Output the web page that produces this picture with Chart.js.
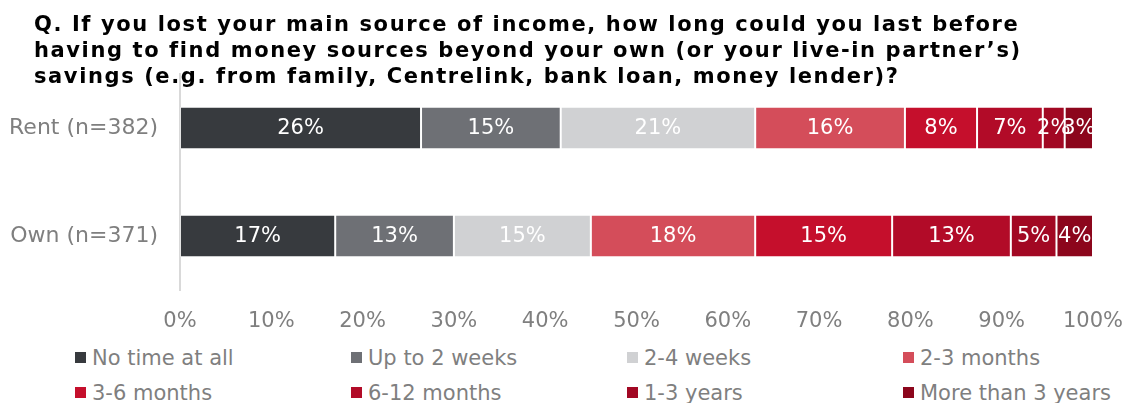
<!DOCTYPE html>
<html>
<head>
<meta charset="utf-8">
<script src="https://cdn.jsdelivr.net/npm/chart.js@4.4.1/dist/chart.umd.min.js"></script>
<style>
  body { margin: 0; background: #fff; font-family: 'DejaVu Sans', Verdana, sans-serif; }
  #wrap { position: relative; width: 1127px; height: 403px; overflow: hidden; }
  #title { position: absolute; left: 34px; top: 11px; z-index: 2; font-weight: bold; font-size: 21px; line-height: 26px; letter-spacing: 1.6px; color: #000; white-space: nowrap; }
  #chart { position: absolute; left: 0; top: 0; }
  #legend { position: absolute; left: 75px; top: 340px; display: grid; grid-template-columns: repeat(4, 276px); grid-auto-rows: 35px; }
  .item { display: flex; align-items: center; font-size: 21px; color: #7f7f7f; white-space: nowrap; }
  .box { width: 11px; height: 11px; margin-right: 6px; flex: none; }
</style>
</head>
<body>
<div id="wrap">
  <div id="title">Q. If you lost your main source of income, how long could you last before<br>having to find money sources beyond your own (or your live-in partner’s)<br>savings (e.g. from family, Centrelink, bank loan, money lender)?</div>
  <canvas id="chart" width="1127" height="340"></canvas>
  <div id="legend"></div>
</div>
<script>
// categories and answer groups
const categories = ['Rent (n=382)', 'Own (n=371)'];
const seriesNames = ['No time at all', 'Up to 2 weeks', '2-4 weeks', '2-3 months',
                     '3-6 months', '6-12 months', '1-3 years', 'More than 3 years'];
// shares in %, one entry per answer group
const rentValues = [26.4, 15.3, 21.3, 16.4, 7.9, 7.2, 2.4, 3.1];
const ownValues  = [17, 13, 15, 18, 15, 13, 5, 4];
const xTicks = [0, 10, 20, 30, 40, 50, 60, 70, 80, 90, 100];

const seriesColors = ['#373a3e', '#6e7075', '#d0d1d3', '#d44d5a',
                      '#c50f2c', '#b20b28', '#a20823', '#8c061c'];

const datasets = seriesNames.map((name, i) => ({
    label: name,
    data: [rentValues[i], ownValues[i]],
    backgroundColor: seriesColors[i],
    borderColor: 'rgba(255,255,255,0.3)',
    borderWidth: 1,
    borderSkipped: false,
    barPercentage: 0.395,
    categoryPercentage: 1
}));

// percentage text inside every segment
const valueLabels = {
    id: 'valueLabels',
    afterDatasetsDraw(chart) {
        const ctx = chart.ctx;
        ctx.save();
        ctx.font = '21px "DejaVu Sans", Verdana, sans-serif';
        ctx.fillStyle = '#ffffff';
        ctx.textAlign = 'center';
        ctx.textBaseline = 'middle';
        chart.data.datasets.forEach((ds, di) => {
            chart.getDatasetMeta(di).data.forEach((bar, j) => {
                const p = bar.getCenterPoint();
                ctx.fillText(Math.round(ds.data[j]) + '%', p.x, p.y + 1);
            });
        });
        ctx.restore();
    }
};

const chart = new Chart(document.getElementById('chart').getContext('2d'), {
    type: 'bar',
    data: { labels: categories, datasets: datasets },
    options: {
        indexAxis: 'y',
        responsive: false,
        animation: false,
        layout: { padding: { top: 74, right: 34, left: 0, bottom: 0 } },
        plugins: {
            legend: { display: false },
            tooltip: { enabled: false }
        },
        scales: {
            x: {
                stacked: true,
                min: xTicks[0],
                max: xTicks[xTicks.length - 1],
                afterBuildTicks: s => { s.ticks = xTicks.map(v => ({ value: v })); },
                afterFit: s => { s.height = 50; s.paddingLeft = 0; s.paddingRight = 0; },
                grid: { display: false },
                border: { display: false },
                ticks: {
                    padding: 11,
                    color: '#7f7f7f',
                    font: { family: '"DejaVu Sans", Verdana, sans-serif', size: 21 },
                    callback: v => v + '%'
                }
            },
            y: {
                stacked: true,
                afterFit: s => { s.width = 180; },
                grid: { display: false },
                border: { display: true, color: '#d9d9d9', width: 2 },
                ticks: {
                    padding: 14,
                    color: '#7f7f7f',
                    font: { family: '"DejaVu Sans", Verdana, sans-serif', size: 22 }
                }
            }
        }
    },
    plugins: [valueLabels]
});

// legend laid out as a 4-column grid
const legendEl = document.getElementById('legend');
chart.data.datasets.forEach(ds => {
    const item = document.createElement('div');
    item.className = 'item';
    const box = document.createElement('span');
    box.className = 'box';
    box.style.background = ds.backgroundColor;
    item.appendChild(box);
    item.appendChild(document.createTextNode(ds.label));
    legendEl.appendChild(item);
});
</script>
</body>
</html>
